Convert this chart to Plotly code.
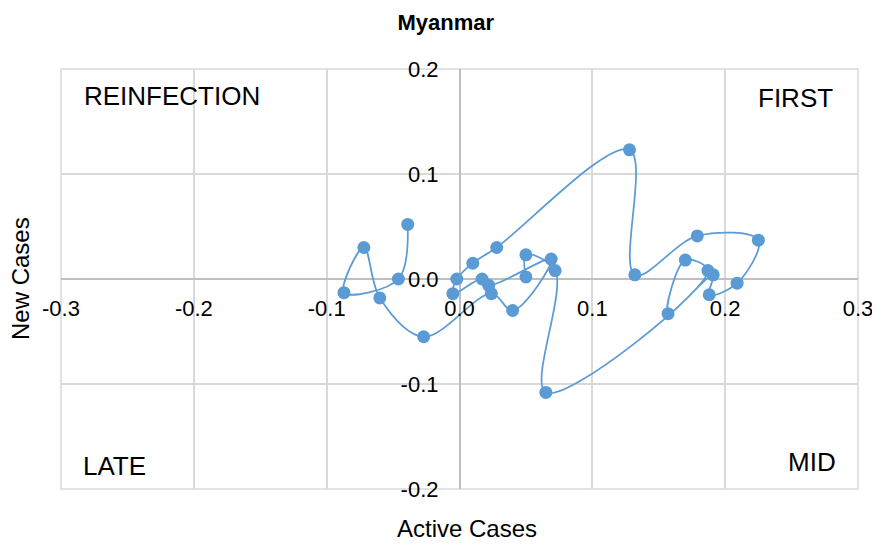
import plotly.graph_objects as go

# Phase diagram data, in time order
active_cases = [-0.039, -0.046, -0.087, -0.072, -0.060, -0.027, 0.024, 0.040, 0.069,
                0.022, 0.017, -0.005, -0.002, 0.010, 0.028, 0.128, 0.132, 0.179,
                0.225, 0.209, 0.188, 0.191, 0.157, 0.170, 0.187, 0.065, 0.072,
                0.050, 0.050]
new_cases = [0.052, 0.000, -0.013, 0.030, -0.018, -0.055, -0.014, -0.030, 0.019,
             -0.006, 0.000, -0.014, 0.000, 0.015, 0.030, 0.123, 0.004, 0.041,
             0.037, -0.004, -0.015, 0.004, -0.033, 0.018, 0.008, -0.108, 0.008,
             0.023, 0.002]

x_ticks = [-0.3, -0.2, -0.1, 0.0, 0.1, 0.2, 0.3]
x_tick_text = ["-0.3", "-0.2", "-0.1", "0.0", "0.1", "0.2", "0.3"]
y_ticks = [-0.2, -0.1, 0.0, 0.1, 0.2]
y_tick_text = ["-0.2", "-0.1", "0.0", "0.1", "0.2"]

quadrants = ["REINFECTION", "FIRST", "LATE", "MID"]

blue = "#5B9BD5"
grid = "#D9D9D9"
font = "Liberation Sans, Arial, sans-serif"

fig = go.Figure()
fig.add_trace(go.Scatter(
    x=active_cases, y=new_cases, mode="lines+markers",
    line=dict(color=blue, width=1.75, shape="spline", smoothing=1),
    marker=dict(color=blue, size=13),
    showlegend=False, hoverinfo="x+y",
))

# the page body adds an 8px offset, so the figure is a bit smaller than the window
fig.update_layout(
    width=872, height=537,
    margin=dict(l=53, r=22, t=61, b=56),
    paper_bgcolor="white", plot_bgcolor="white",
    font=dict(family=font, size=22, color="#000000"),
    title=dict(text="<b>Myanmar</b>", x=0.502, xanchor="center", y=0.974,
               yanchor="middle", font=dict(size=22)),
    xaxis=dict(range=[-0.3, 0.3], tickvals=x_ticks, ticktext=x_tick_text,
               showgrid=True, gridcolor=grid, gridwidth=1.5,
               zeroline=True, zerolinecolor="#BFBFBF", zerolinewidth=2,
               anchor="free", position=0.5, ticks="", ticklabelstandoff=14,
               showline=False, automargin=False, fixedrange=True),
    yaxis=dict(range=[-0.2, 0.2], tickvals=y_ticks, ticktext=y_tick_text,
               showgrid=True, gridcolor=grid, gridwidth=1.5,
               zeroline=True, zerolinecolor="#BFBFBF", zerolinewidth=2,
               anchor="free", position=0.5, ticks="", ticklabelstandoff=21,
               showline=False, automargin=False, fixedrange=True),
    shapes=[dict(type="rect", xref="paper", yref="paper", x0=0, y0=0, x1=1, y1=1,
                 line=dict(color=grid, width=1.5), layer="below")],
)

# axis titles (placed like the original, away from the centred axes)
fig.add_annotation(text="Active Cases", xref="paper", yref="paper", x=0.509, y=-0.095,
                   xanchor="center", yanchor="middle", showarrow=False,
                   font=dict(size=24))
fig.add_annotation(text="New Cases", xref="paper", yref="paper", x=-0.0514, y=0.5,
                   xanchor="center", yanchor="middle", textangle=-90, showarrow=False,
                   font=dict(size=24))

# quadrant labels
fig.add_annotation(text=quadrants[0], x=-0.284, y=0.174, xanchor="left", yanchor="middle",
                   showarrow=False, font=dict(size=26))
fig.add_annotation(text=quadrants[1], x=0.283, y=0.172, xanchor="right", yanchor="middle",
                   showarrow=False, font=dict(size=26))
fig.add_annotation(text=quadrants[2], x=-0.285, y=-0.178, xanchor="left", yanchor="middle",
                   showarrow=False, font=dict(size=26))
fig.add_annotation(text=quadrants[3], x=0.285, y=-0.174, xanchor="right", yanchor="middle",
                   showarrow=False, font=dict(size=26))

fig.write_html("out.html")
